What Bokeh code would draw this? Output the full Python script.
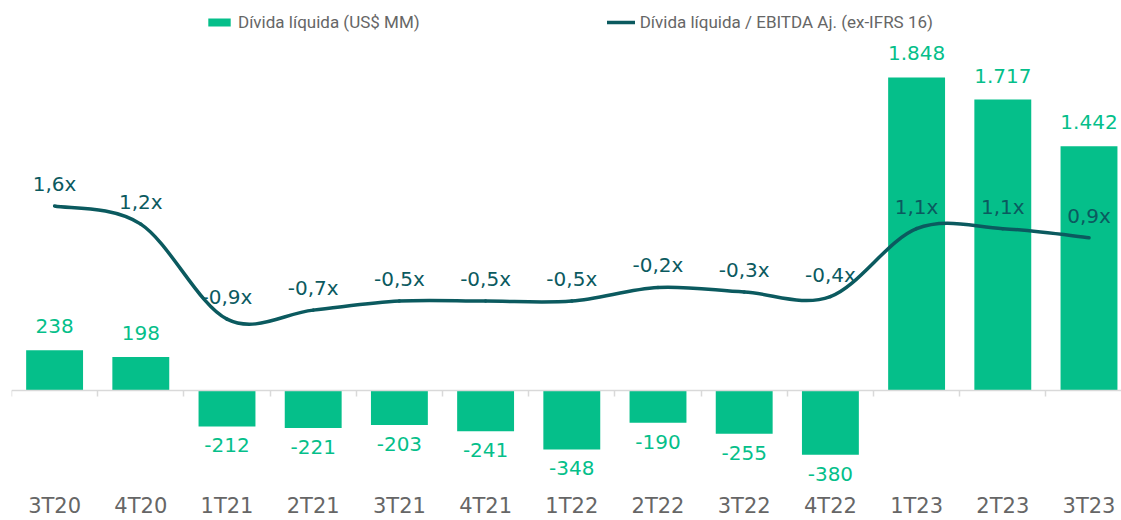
from bokeh.plotting import figure
from bokeh.models import (Range1d, LinearAxis, FixedTicker, ColumnDataSource,
                          LabelSet, Legend, LegendItem)
from bokeh.core.properties import value
from bokeh.embed import file_html
from bokeh.resources import INLINE

quarters = ["3T20", "4T20", "1T21", "2T21", "3T21", "4T21", "1T22",
            "2T22", "3T22", "4T22", "1T23", "2T23", "3T23"]
net_debt = [238, 198, -212, -221, -203, -241, -348, -190, -255, -380, 1848, 1717, 1442]
leverage = [1.6, 1.2, -0.9, -0.7, -0.5, -0.5, -0.5, -0.2, -0.3, -0.4, 1.1, 1.1, 0.9]

GREEN = "#05BF8A"
TEAL = "#0B5A5F"
GREY = "#666666"
FONT = "DejaVu Sans"

n = len(quarters)
xs = list(range(n))


def fmt_int(v):
    s = f"{abs(v):,}".replace(",", ".")
    return ("-" if v < 0 else "") + s


def fmt_ratio(v):
    return f"{v:.1f}".replace(".", ",") + "x"


p = figure(width=1121, height=520,
           x_range=Range1d(-0.5, 12.377), y_range=Range1d(-549, 2302),
           output_backend="svg", toolbar_location=None,
           x_axis_location=None, y_axis_location=None,
           min_border_left=11, min_border_right=0, min_border_top=0,
           min_border_bottom=20)
p.extra_y_ranges = {"ratio": Range1d(-4.53, 6.14)}
p.grid.visible = False
p.outline_line_color = None

# category label axis
lab_axis = LinearAxis(ticker=FixedTicker(ticks=xs),
                      major_label_overrides={i: q for i, q in enumerate(quarters)},
                      axis_line_color=None, major_tick_line_color=None,
                      minor_tick_line_color=None, major_tick_out=0, major_tick_in=0,
                      major_label_standoff=10,
                      major_label_text_font=FONT,
                      major_label_text_font_size="21px",
                      major_label_text_color=GREY)
p.add_layout(lab_axis, "below")

# zero line with boundary ticks
zero_axis = LinearAxis(fixed_location=0,
                       ticker=FixedTicker(ticks=[], minor_ticks=[i - 0.5 for i in range(n + 1)]),
                       axis_line_color="#D9D9D9", axis_line_width=1.5,
                       minor_tick_line_color="#D9D9D9", minor_tick_line_width=1.5,
                       minor_tick_out=6, minor_tick_in=0,
                       major_tick_line_color=None, major_tick_out=0, major_tick_in=0,
                       major_label_standoff=0, major_label_text_font_size="0px")
p.add_layout(zero_axis, "below")

src = ColumnDataSource(dict(x=xs, v=net_debt))
bars = p.vbar(x="x", top="v", bottom=0, width=0.66, source=src,
              fill_color=GREEN, line_color=None)

pos_src = ColumnDataSource(dict(x=[x for x, v in zip(xs, net_debt) if v >= 0],
                                v=[v for v in net_debt if v >= 0],
                                t=[fmt_int(v) for v in net_debt if v >= 0]))
neg_src = ColumnDataSource(dict(x=[x for x, v in zip(xs, net_debt) if v < 0],
                                v=[v for v in net_debt if v < 0],
                                t=[fmt_int(v) for v in net_debt if v < 0]))
p.add_layout(LabelSet(x="x", y="v", text="t", source=pos_src, y_offset=17,
                      text_align="center", text_baseline="alphabetic",
                      text_font=value(FONT), text_font_size="20px", text_color=GREEN))
p.add_layout(LabelSet(x="x", y="v", text="t", source=neg_src, y_offset=-12,
                      text_align="center", text_baseline="top",
                      text_font=value(FONT), text_font_size="20px", text_color=GREEN))

# smooth line (Catmull-Rom as cubic Bezier segments)
x0, y0, x1, y1, cx0, cy0, cx1, cy1 = ([] for _ in range(8))
for i in range(n - 1):
    pa = (xs[max(i - 1, 0)], leverage[max(i - 1, 0)])
    pb = (xs[i], leverage[i])
    pc = (xs[i + 1], leverage[i + 1])
    pd = (xs[min(i + 2, n - 1)], leverage[min(i + 2, n - 1)])
    x0.append(pb[0]); y0.append(pb[1]); x1.append(pc[0]); y1.append(pc[1])
    cx0.append(pb[0] + (pc[0] - pa[0]) / 6); cy0.append(pb[1] + (pc[1] - pa[1]) / 6)
    cx1.append(pc[0] - (pd[0] - pb[0]) / 6); cy1.append(pc[1] - (pd[1] - pb[1]) / 6)
bsrc = ColumnDataSource(dict(x0=x0, y0=y0, x1=x1, y1=y1, cx0=cx0, cy0=cy0, cx1=cx1, cy1=cy1))
curve = p.bezier(x0="x0", y0="y0", x1="x1", y1="y1", cx0="cx0", cy0="cy0",
                 cx1="cx1", cy1="cy1", source=bsrc, line_color=TEAL, line_width=3.5,
                 line_cap="round", y_range_name="ratio")

rsrc = ColumnDataSource(dict(x=xs, r=leverage, t=[fmt_ratio(v) for v in leverage]))
p.add_layout(LabelSet(x="x", y="r", text="t", source=rsrc, y_range_name="ratio",
                      y_offset=15, text_align="center", text_baseline="alphabetic",
                      text_font=value(FONT), text_font_size="20px", text_color=TEAL))

legend = Legend(items=[LegendItem(label="Dívida líquida (US$ MM)", renderers=[bars]),
                       LegendItem(label="Dívida líquida / EBITDA Aj. (ex-IFRS 16)", renderers=[curve])],
                orientation="horizontal", location=(194, 451),
                border_line_color=None, background_fill_alpha=0,
                padding=0, margin=0, spacing=187,
                glyph_width=28, glyph_height=10, label_standoff=5, label_height=20,
                label_text_font="Roboto", label_text_font_size="17px",
                label_text_color=GREY)
p.add_layout(legend)

open("out.html", "w").write(file_html(p, INLINE))
